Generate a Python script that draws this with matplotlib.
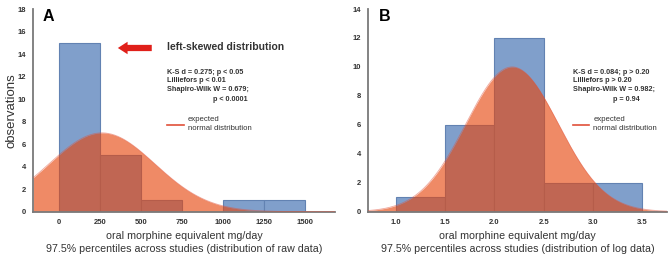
import numpy as np
import matplotlib
matplotlib.use('Agg')
import matplotlib.pyplot as plt

plt.rcParams['font.family'] = ['Liberation Sans', 'DejaVu Sans']

# panel A: raw data histogram (bin edges and counts)
raw_edges = [0, 250, 500, 750, 1000, 1250, 1500]
raw_counts = [15, 5, 1, 0, 1, 1]
raw_mean, raw_sd, raw_peak = 260, 323, 7.0
raw_ticks = [0, 250, 500, 750, 1000, 1250, 1500]
raw_stats = ['K-S d = 0.275; p < 0.05', 'Lilliefors p < 0.01', 'Shapiro-Wilk W = 0.679;']
raw_p = 'p < 0.0001'

# panel B: log data histogram
log_edges = [1.0, 1.5, 2.0, 2.5, 3.0, 3.5]
log_counts = [1, 6, 12, 2, 2]
log_mean, log_sd, log_peak = 2.18, 0.47, 10.0
log_ticks = [1.0, 1.5, 2.0, 2.5, 3.0, 3.5]
log_stats = ['K-S d = 0.084; p > 0.20', 'Lilliefors p > 0.20', 'Shapiro-Wilk W = 0.982;']
log_p = 'p = 0.94'

bar_col = '#809fcb'
bar_edge = '#6282b2'
fill_col = (0.90, 0.275, 0.05, 0.63)
line_col = '#e0503a'
grey = '#7a7a7a'
txt = '#333333'

fig = plt.figure(figsize=(6.69, 2.58), dpi=100)
axA = fig.add_axes([0.0493, 0.1795, 0.4514, 0.7855])
axB = fig.add_axes([0.5505, 0.1795, 0.4461, 0.7855])


def panel(ax, edges, counts, mu, sd, peak, xlim, ylim, ticks, ticklabels, letter, lx, xl2):
    edges = np.array(edges)
    widths = np.diff(edges)
    ax.bar(edges[:-1], counts, width=widths, align='edge', color=bar_col,
           edgecolor=bar_edge, linewidth=0.8, zorder=1)
    x = np.linspace(xlim[0], xlim[1], 400)
    y = peak * np.exp(-(x - mu) ** 2 / (2 * sd ** 2))
    ax.fill_between(x, 0, y, color=fill_col, linewidth=0, zorder=2)
    ax.plot(x, y, color=line_col, lw=0.6, alpha=0.5, zorder=3)
    ax.set_xlim(*xlim)
    ax.set_ylim(*ylim)
    ax.set_xticks(ticks)
    ax.set_xticklabels(ticklabels)
    ax.set_yticks(range(0, ylim[1] + 1, 2))
    ax.tick_params(length=0, labelsize=5.5, labelcolor=txt)
    ax.tick_params(axis='x', pad=5)
    ax.tick_params(axis='y', pad=5)
    for lab in ax.get_xticklabels() + ax.get_yticklabels():
        lab.set_fontweight('bold')
    for s in ['top', 'right']:
        ax.spines[s].set_visible(False)
    for s in ['left', 'bottom']:
        ax.spines[s].set_color(grey)
        ax.spines[s].set_linewidth(1.3)
    ax.set_xlabel('oral morphine equivalent mg/day\n97.5% percentiles across studies (' + xl2 + ')',
                  fontsize=7.7, color=txt, labelpad=4, linespacing=1.3)
    ax.text(lx, 1.0, letter, transform=ax.transAxes, fontsize=11.5, fontweight='bold',
            va='top', ha='left')
    return ax


panel(axA, raw_edges, raw_counts, raw_mean, raw_sd, raw_peak, (-160, 1680), (0, 18),
      raw_ticks, [str(t) for t in raw_ticks], 'A', 0.032, 'distribution of raw data')
panel(axB, log_edges, log_counts, log_mean, log_sd, log_peak, (0.72, 3.75), (0, 14),
      log_ticks, ['%.1f' % t for t in log_ticks], 'B', 0.037, 'distribution of log data')

axA.set_ylabel('observations', fontsize=9.5, color=txt)
axA.yaxis.set_label_coords(-0.05, 0.5)

# annotation panel A
axA.annotate('', xy=(0.172, 0.814), xytext=(0.231, 0.814), xycoords=fig.transFigure,
             arrowprops=dict(arrowstyle='simple,head_length=0.7,head_width=0.9,tail_width=0.45',
                             color='#e0201a', lw=0))
fig.text(0.2496, 0.816, 'left-skewed distribution', fontsize=7.5, fontweight='bold',
         color=txt, va='center')

line_y = [72, 80.7, 89.3]
for x0, xp, stats, pval in [(0.2496, 0.318, raw_stats, raw_p), (0.856, 0.917, log_stats, log_p)]:
    for yy, s in zip(line_y, stats):
        fig.text(x0, 1 - yy / 258, s, fontsize=5.2, fontweight='bold', color=txt, va='center')
    fig.text(xp, 1 - 99.5 / 258, pval, fontsize=5.2, fontweight='bold', color=txt, va='center')
    fig.add_artist(plt.Line2D([x0, x0 + 0.025], [0.517, 0.517], color=line_col, lw=1.2))
    fig.text(x0 + 0.031, 1 - 120 / 258, 'expected', fontsize=5.6, color=txt, va='center')
    fig.text(x0 + 0.031, 1 - 129 / 258, 'normal distribution', fontsize=5.6, color=txt, va='center')

fig.savefig('out.png', dpi=100)
